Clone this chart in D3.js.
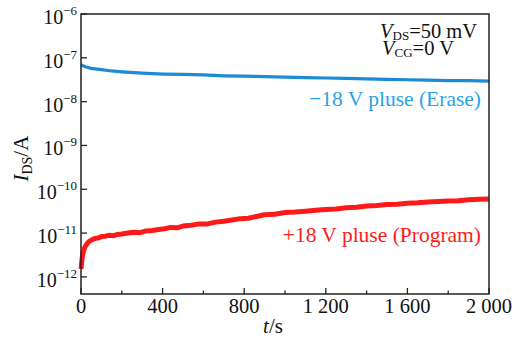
<!DOCTYPE html>
<html>
<head>
<meta charset="utf-8">
<script src="https://cdn.jsdelivr.net/npm/d3@7"></script>
<style>
body { margin: 0; background: #fff; }
svg text { font-family: "Liberation Serif", "Times New Roman", serif; }
</style>
</head>
<body>
<div id="c_plot"></div>
<script>
// time (s) and log10(I_DS / A)
var eraseT   = [0, 10, 25, 50, 100, 150, 200, 300, 400, 500, 600, 700, 800, 900, 1000, 1100, 1200, 1300, 1400, 1500, 1600, 1700, 1800, 1900, 2000];
var eraseLog = [-7.16, -7.18, -7.21, -7.24, -7.27, -7.30, -7.32, -7.35, -7.37, -7.38, -7.39, -7.41, -7.42, -7.43, -7.44, -7.45, -7.46, -7.47, -7.48, -7.49, -7.50, -7.51, -7.52, -7.52, -7.53];

var progT   = [0, 3, 6, 10, 15, 20, 30, 40, 55, 70, 85, 100, 120, 140, 160, 180, 200, 230, 260, 290, 320, 350, 380, 410, 440, 470, 500, 540, 580, 620, 660, 700, 740, 780, 820, 860, 900, 950, 1000, 1050, 1100, 1150, 1200, 1250, 1300, 1350, 1400, 1450, 1500, 1550, 1600, 1650, 1700, 1750, 1800, 1850, 1900, 1950, 2000];
var progLog = [-11.82, -11.68, -11.56, -11.45, -11.37, -11.31, -11.24, -11.19, -11.15, -11.12, -11.11, -11.08, -11.07, -11.05, -11.06, -11.03, -11.02, -11.00, -10.98, -10.99, -10.95, -10.94, -10.92, -10.90, -10.87, -10.88, -10.84, -10.82, -10.79, -10.79, -10.75, -10.73, -10.70, -10.67, -10.66, -10.62, -10.58, -10.57, -10.53, -10.52, -10.50, -10.48, -10.46, -10.45, -10.42, -10.41, -10.38, -10.37, -10.35, -10.34, -10.32, -10.31, -10.29, -10.28, -10.27, -10.26, -10.24, -10.23, -10.22];

var xTicks = [0, 400, 800, 1200, 1600, 2000];
var xTickLabels = ["0", "400", "800", "1 200", "1 600", "2 000"];
var xMinor = [200, 600, 1000, 1400, 1800];
var yExps = [-6, -7, -8, -9, -10, -11, -12];

var margin = {top: 14, right: 25, bottom: 49, left: 81};
var width = 514 - margin.left - margin.right, height = 343 - margin.top - margin.bottom;

var svg = d3.select("#c_plot")
  .append("svg")
  .attr("width", 514)
  .attr("height", 343)
  .append("g")
  .attr("transform", "translate(" + margin.left + "," + margin.top + ")");

var x = d3.scaleLinear().domain([0, 2000]).range([0, width]);
// domain in log10 units, axis bottom sits a bit below 10^-12
var y = d3.scaleLinear().domain([-12.39, -6]).range([height, 0]);

var line = d3.line()
  .x(d => x(d[0]))
  .y(d => y(d[1]));

var erase = eraseT.map((t, i) => [t, eraseLog[i]]);
var prog = progT.map((t, i) => [t, progLog[i]]);

svg.append("path")
  .attr("d", line(erase))
  .attr("stroke", "#1b8bd6")
  .attr("stroke-width", 3.2)
  .attr("fill", "none");

svg.append("path")
  .attr("d", line(prog))
  .attr("stroke", "#ff1a1a")
  .attr("stroke-width", 5)
  .attr("stroke-linejoin", "round")
  .attr("fill", "none");

// frame
svg.append("rect")
  .attr("width", width).attr("height", height)
  .attr("fill", "none").attr("stroke", "#222").attr("stroke-width", 1.5);

// x ticks (inward)
svg.selectAll(".xt").data(xTicks).enter().append("line")
  .attr("x1", d => x(d)).attr("x2", d => x(d))
  .attr("y1", height).attr("y2", height - 6)
  .attr("stroke", "#222").attr("stroke-width", 1.3);
svg.selectAll(".xm").data(xMinor).enter().append("line")
  .attr("x1", d => x(d)).attr("x2", d => x(d))
  .attr("y1", height).attr("y2", height - 3.5)
  .attr("stroke", "#222").attr("stroke-width", 1.3);
svg.selectAll(".xl").data(xTicks).enter().append("text")
  .attr("x", d => x(d)).attr("y", height + 19)
  .attr("text-anchor", "middle")
  .attr("font-size", 20.5)
  .attr("fill", "#111")
  .text((d, i) => xTickLabels[i]);

// y ticks (inward)
svg.selectAll(".yt").data(yExps).enter().append("line")
  .attr("x1", 0).attr("x2", 6)
  .attr("y1", d => y(d)).attr("y2", d => y(d))
  .attr("stroke", "#222").attr("stroke-width", 1.3);
var yl = svg.selectAll(".yl").data(yExps).enter().append("text")
  .attr("x", -4).attr("y", d => y(d) + 10)
  .attr("text-anchor", "end")
  .attr("font-size", 20)
  .attr("fill", "#111");
yl.append("tspan").text("10");
yl.append("tspan").attr("dy", -9).attr("font-size", 13).text(d => "\u2212" + (-d));

// axis titles
var xt = svg.append("text")
  .attr("x", 192).attr("y", height + 39)
  .attr("text-anchor", "middle").attr("font-size", 21).attr("fill", "#111");
xt.append("tspan").attr("font-style", "italic").text("t");
xt.append("tspan").text("/s");

var ytl = svg.append("text")
  .attr("transform", "translate(" + (-53) + "," + (y(-9.3)) + ") rotate(-90)")
  .attr("text-anchor", "middle").attr("font-size", 21).attr("fill", "#111");
ytl.append("tspan").attr("font-style", "italic").text("I");
ytl.append("tspan").attr("font-size", 14).attr("dy", 4).text("DS");
ytl.append("tspan").attr("dy", -4).text("/A");

// conditions
var v1 = svg.append("text").attr("x", 299).attr("y", 24).attr("font-size", 20.5).attr("fill", "#111");
v1.append("tspan").attr("font-style", "italic").text("V");
v1.append("tspan").attr("font-size", 13).attr("dy", 2).text("DS");
v1.append("tspan").attr("dy", -2).text("=50 mV");
var v2 = svg.append("text").attr("x", 301).attr("y", 41).attr("font-size", 20.5).attr("fill", "#111");
v2.append("tspan").attr("font-style", "italic").text("V");
v2.append("tspan").attr("font-size", 13).attr("dy", 2).text("CG");
v2.append("tspan").attr("dy", -2).text("=0 V");

// curve labels
svg.append("text").attr("x", width - 8).attr("y", 92)
  .attr("text-anchor", "end").attr("font-size", 21.5).attr("fill", "#2aa3e6")
  .text("\u221218 V pluse (Erase)");
svg.append("text").attr("x", width - 8).attr("y", 228)
  .attr("text-anchor", "end").attr("font-size", 21.5).attr("fill", "#ff1a1a")
  .text("+18 V pluse (Program)");
</script>
</body>
</html>
